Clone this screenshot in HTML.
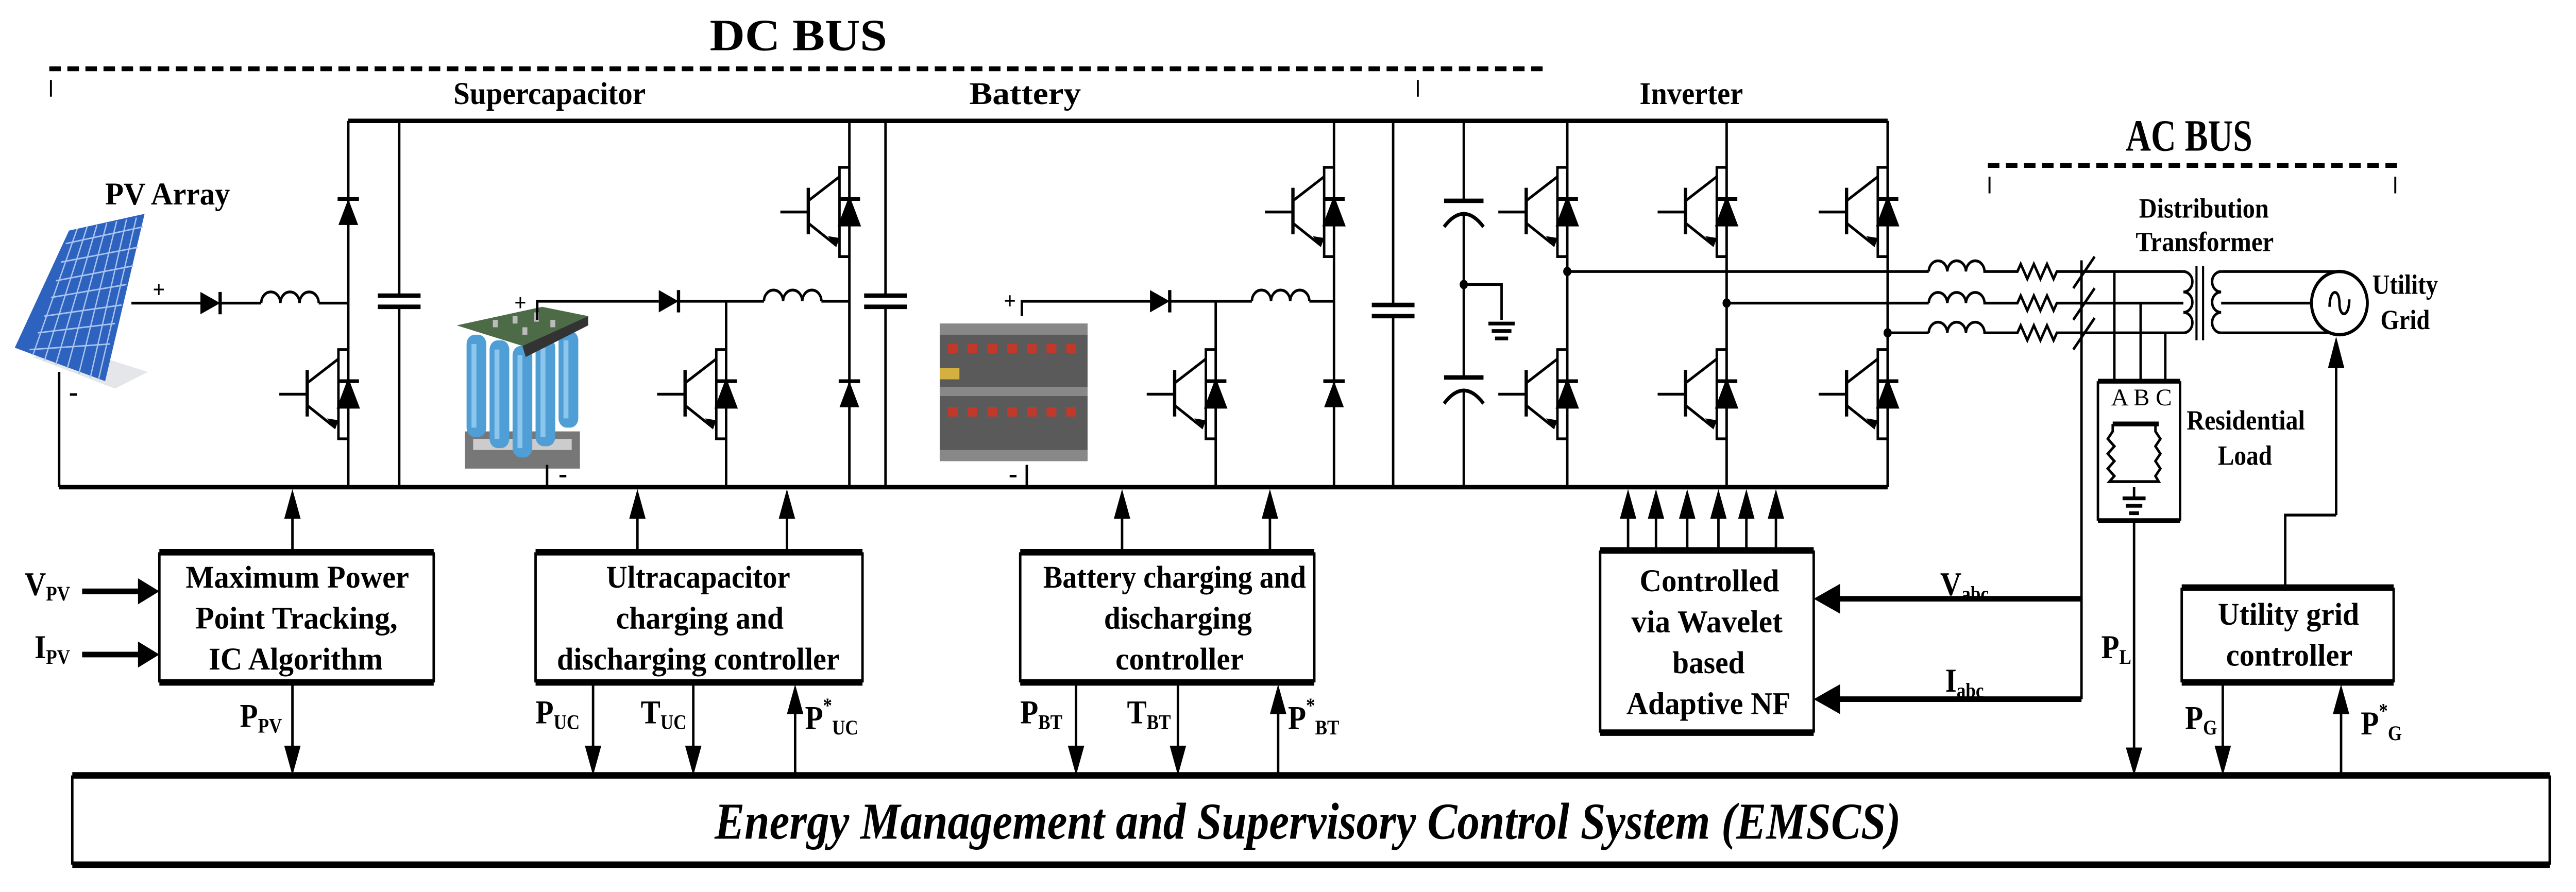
<!DOCTYPE html>
<html><head><meta charset="utf-8"><style>
html,body{margin:0;padding:0;background:#fff;overflow:hidden;width:100%;height:100%}
svg{display:block;width:100vw;height:100vh}
.t{font-family:"Liberation Serif",serif;font-weight:bold;fill:#000}
.s{font-size:11px}
</style></head><body>
<svg viewBox="0 0 1568 479.7" preserveAspectRatio="none" xmlns="http://www.w3.org/2000/svg">
<defs>
<g id="dio"><polygon points="-6,7 6,7 0,-7" fill="#000"/><path d="M-6.5,-7H6.5" stroke="#000" stroke-width="2"/></g>
<g id="igbt" fill="none" stroke="#000" stroke-width="1.5">
<path d="M0,-24H-6V24H0"/>
<path d="M-25,-13V12" stroke-width="2"/>
<path d="M-42,0H-25"/>
<path d="M-25,-6L-6,-19M-25,6L-8,18"/>
<polygon points="-8,19 -13,13 -6,14" fill="#000" stroke="none"/>
<use href="#dio"/>
</g>
</defs>
<rect width="1568" height="480" fill="#fff"/>

<text class="t" x="432" y="27" font-size="24" textLength="108" lengthAdjust="spacingAndGlyphs">DC BUS</text>
<path d="M30,37H943" stroke="#000" stroke-width="2.6" stroke-dasharray="7,4"/>
<path d="M31,43V52M863,43V52" stroke="#000" stroke-width="1.2"/>
<text class="t" x="1294" y="81" font-size="24" textLength="77" lengthAdjust="spacingAndGlyphs">AC BUS</text>
<path d="M1210,89H1459" stroke="#000" stroke-width="2.6" stroke-dasharray="7,4"/>
<path d="M1211,95V104M1458,95V104" stroke="#000" stroke-width="1.2"/>
<text class="t" x="276" y="56" font-size="17" textLength="117" lengthAdjust="spacingAndGlyphs">Supercapacitor</text>
<text class="t" x="590" y="56" font-size="17" textLength="68" lengthAdjust="spacingAndGlyphs">Battery</text>
<text class="t" x="998" y="56" font-size="17" textLength="63" lengthAdjust="spacingAndGlyphs">Inverter</text>
<text class="t" x="64" y="110" font-size="17" textLength="76" lengthAdjust="spacingAndGlyphs">PV Array</text>

<g stroke="#000" fill="none">
<path d="M212,65H1149" stroke-width="2.4"/>
<path d="M36,262H1149" stroke-width="2.4"/>
</g>

<polygon points="20,192 70,209 90,200 40,186" fill="#e4e6ea"/>
<polygon points="42,124 88,115 64,205 9,187" fill="#2d62bf"/>
<g stroke="#a9c4ee" stroke-width="0.8">
<path d="M47,123L20,191M53,122L27,194M59,121L34,196M65,120L41,198M71,119L48,201M77,118L55,203M83,117L60,204"/>
<path d="M40,131L87,122M37,141L84,133M34,151L81,143M31,160L77,153M27,170L74,164M23,179L70,174M18,188L67,185"/>
</g>
<g stroke="#000" fill="none" stroke-width="1.5">
<path d="M80,163H122M134,163H159M194,163H212"/>
<path d="M159,163a5.83,6 0 0 1 11.67,0a5.83,6 0 0 1 11.67,0a5.83,6 0 0 1 11.67,0"/>
<path d="M36,200V262"/>
<path d="M212,65V262"/>
<path d="M243,65V159M243,165V262"/>
<path d="M230,159H256M230,165H256" stroke-width="2.4"/>
</g>
<polygon points="122,157 122,169 134,163" fill="#000"/><path d="M134,157V169" stroke="#000" stroke-width="2"/>
<text class="t" x="93" y="160" font-size="13">+</text>
<text class="t" x="42" y="216" font-size="16">-</text>
<use href="#dio" x="212" y="114"/>
<use href="#igbt" x="212" y="212"/>

<g>
<rect x="283" y="232" width="70" height="20" fill="#777"/>
<rect x="288" y="236" width="60" height="6" fill="#ccc"/>
<g fill="#4f9fd6">
<rect x="284" y="180" width="12" height="55" rx="5"/><rect x="298" y="183" width="12" height="58" rx="5"/>
<rect x="312" y="186" width="12" height="60" rx="5"/><rect x="326" y="182" width="12" height="58" rx="5"/>
<rect x="340" y="178" width="12" height="52" rx="5"/>
</g>
<g fill="#8cc6ec"><rect x="287" y="185" width="3" height="45"/><rect x="301" y="188" width="3" height="48"/><rect x="315" y="191" width="3" height="50"/><rect x="329" y="187" width="3" height="48"/><rect x="343" y="183" width="3" height="42"/></g>
<polygon points="278,175 330,165 358,170 318,186" fill="#4c6b46"/>
<polygon points="318,186 358,170 358,175 320,192" fill="#333"/>
<g fill="#bbb"><rect x="300" y="172" width="3" height="4"/><rect x="312" y="170" width="3" height="4"/><rect x="325" y="168" width="3" height="5"/><rect x="335" y="172" width="3" height="4"/><rect x="318" y="176" width="3" height="4"/></g>
</g>
<g stroke="#000" fill="none" stroke-width="1.5">
<path d="M327,172V162H401M413,162H465M500,162H517"/>
<path d="M465,162a5.83,6 0 0 1 11.67,0a5.83,6 0 0 1 11.67,0a5.83,6 0 0 1 11.67,0"/>
<path d="M442,162V262"/>
<path d="M333,250V262"/>
<path d="M517,65V262"/>
<path d="M539,65V159M539,165V262"/>
<path d="M526,159H552M526,165H552" stroke-width="2.4"/>
</g>
<polygon points="401,156 401,168 413,162" fill="#000"/><path d="M413,156V168" stroke="#000" stroke-width="2"/>
<text class="t" x="313" y="167" font-size="13">+</text>
<text class="t" x="340" y="260" font-size="16">-</text>
<use href="#igbt" x="442" y="212"/>
<use href="#igbt" x="517" y="114"/>
<use href="#dio" x="517" y="212"/>

<g>
<rect x="572" y="174" width="90" height="74" fill="#5a5a5a"/>
<rect x="572" y="174" width="90" height="6" fill="#888"/>
<rect x="572" y="208" width="90" height="5" fill="#888"/>
<rect x="572" y="242" width="90" height="6" fill="#888"/>
<g fill="#c0392b">
<rect x="577" y="185" width="6" height="5"/><rect x="589" y="185" width="6" height="5"/><rect x="601" y="185" width="6" height="5"/><rect x="613" y="185" width="6" height="5"/><rect x="625" y="185" width="6" height="5"/><rect x="637" y="185" width="6" height="5"/><rect x="649" y="185" width="6" height="5"/>
<rect x="577" y="219" width="6" height="5"/><rect x="589" y="219" width="6" height="5"/><rect x="601" y="219" width="6" height="5"/><rect x="613" y="219" width="6" height="5"/><rect x="625" y="219" width="6" height="5"/><rect x="637" y="219" width="6" height="5"/><rect x="649" y="219" width="6" height="5"/>
</g>
<rect x="572" y="198" width="12" height="6" fill="#d4b040"/>
</g>
<g stroke="#000" fill="none" stroke-width="1.5">
<path d="M622,170V162H700M712,162H762M797,162H812"/>
<path d="M762,162a5.83,6 0 0 1 11.67,0a5.83,6 0 0 1 11.67,0a5.83,6 0 0 1 11.67,0"/>
<path d="M740,162V262"/>
<path d="M625,250V262"/>
<path d="M812,65V262"/>
<path d="M848,65V164M848,170V262"/>
<path d="M835,164H861M835,170H861" stroke-width="2.4"/>
</g>
<polygon points="700,156 700,168 712,162" fill="#000"/><path d="M712,156V168" stroke="#000" stroke-width="2"/>
<text class="t" x="611" y="166" font-size="13">+</text>
<text class="t" x="614" y="260" font-size="16">-</text>
<use href="#igbt" x="740" y="212"/>
<use href="#igbt" x="812" y="114"/>
<use href="#dio" x="812" y="212"/>

<g stroke="#000" fill="none" stroke-width="1.5">
<path d="M891,65V108M891,114V203M891,209V262"/>
<path d="M879,108H903M879,203H903" stroke-width="2.4"/>
<path d="M879,122Q891,108 903,122M879,217Q891,203 903,217" stroke-width="2"/>
<path d="M891,153H914V172"/>
<path d="M906,174H922M908,178H920M910,182H918" stroke-width="2"/>
<path d="M954,65V262M1051,65V262M1149,65V262"/>
<path d="M954,146H1174M1051,163H1174M1149,179H1174"/>
</g>
<circle cx="891" cy="153" r="2.5"/><circle cx="954" cy="146" r="2.5"/><circle cx="1051" cy="163" r="2.5"/><circle cx="1149" cy="179" r="2.5"/>
<use href="#igbt" x="954" y="114"/><use href="#igbt" x="954" y="212"/>
<use href="#igbt" x="1051" y="114"/><use href="#igbt" x="1051" y="212"/>
<use href="#igbt" x="1149" y="114"/><use href="#igbt" x="1149" y="212"/>

<g stroke="#000" fill="none" stroke-width="1.5">
<path d="M1174,146a5.67,6 0 0 1 11.33,0a5.67,6 0 0 1 11.33,0a5.67,6 0 0 1 11.33,0H1228l2,-4l4,8l4,-8l4,8l4,-8l4,8l2,-4H1329"/>
<path d="M1174,163a5.67,6 0 0 1 11.33,0a5.67,6 0 0 1 11.33,0a5.67,6 0 0 1 11.33,0H1228l2,-4l4,8l4,-8l4,8l4,-8l4,8l2,-4H1329"/>
<path d="M1174,179a5.67,6 0 0 1 11.33,0a5.67,6 0 0 1 11.33,0a5.67,6 0 0 1 11.33,0H1228l2,-4l4,8l4,-8l4,8l4,-8l4,8l2,-4H1329"/>
<path d="M1262,155L1275,138M1262,172L1275,155M1262,188L1275,171"/>
<path d="M1329,146a5.5,5.5 0 0 1 0,11a5.5,5.5 0 0 1 0,11a5.5,5.5 0 0 1 0,11"/>
<path d="M1337,143V183M1341,143V183" stroke-width="1.3"/>
<path d="M1352,146a5.5,5.5 0 0 0 0,11a5.5,5.5 0 0 0 0,11a5.5,5.5 0 0 0 0,11"/>
<path d="M1352,146H1424M1352,179H1424M1352,163H1407"/>
<circle cx="1424" cy="163" r="17" fill="#fff" stroke-width="1.8"/>
<path d="M1418,165c0,-10 6,-10 6,-2s6,8 6,-2"/>
<path d="M1267,140V376"/>
<path d="M1287,146V205M1303,163V205M1318,179V205"/>
<path d="M1277,205V280M1327,205V280"/>
<path d="M1277,205H1327M1277,280H1327" stroke-width="2.6"/>
<path d="M1286,228H1314" stroke-width="2.6"/>
<path d="M1286,228V232l-3,4l4,4l-4,4l4,4l-4,4l4,4l-3,3H1314l-2,-3l3,-4l-3,-4l3,-4l-3,-4l3,-4l-3,-4V228"/>
<path d="M1299,262V268"/>
<path d="M1292,268H1306M1294,272H1304M1296,276H1302" stroke-width="2"/>
<path d="M1299,280V402"/>
<path d="M1422,277V196M1422,277H1391V316"/>
</g>
<polygon points="1417,198 1427,198 1422,181" fill="#000"/>
<polygon points="1294,402 1304,402 1299,417" fill="#000"/>
<text class="t" x="1302" y="117" font-size="15" textLength="79" lengthAdjust="spacingAndGlyphs">Distribution</text>
<text class="t" x="1300" y="135" font-size="15" textLength="84" lengthAdjust="spacingAndGlyphs">Transformer</text>
<text class="t" x="1444" y="158" font-size="15" textLength="40" lengthAdjust="spacingAndGlyphs">Utility</text>
<text class="t" x="1449" y="177" font-size="15" textLength="30" lengthAdjust="spacingAndGlyphs">Grid</text>
<text class="t" x="1331" y="231" font-size="15" textLength="72" lengthAdjust="spacingAndGlyphs">Residential</text>
<text class="t" x="1350" y="250" font-size="15" textLength="33" lengthAdjust="spacingAndGlyphs">Load</text>
<text x="1285" y="218" font-family="Liberation Serif,serif" font-size="13" textLength="37" lengthAdjust="spacingAndGlyphs">A B C</text>

<g stroke="#000" fill="none" stroke-width="1.5">
<path d="M97,297V367M264,297V367"/>
<path d="M97,297H264M97,367H264" stroke-width="3.5"/>
<path d="M326,297V367M525,297V367"/>
<path d="M326,297H525M326,367H525" stroke-width="3.5"/>
<path d="M621,297V367M800,297V367"/>
<path d="M621,297H800M621,367H800" stroke-width="3.5"/>
<path d="M974,296V394M1104,296V394"/>
<path d="M974,296H1104M974,394H1104" stroke-width="3.5"/>
<path d="M1328,316V367M1457,316V367"/>
<path d="M1328,316H1457M1328,367H1457" stroke-width="3.5"/>
<path d="M44,417V465M1552,417V465"/>
<path d="M44,417H1552M44,465H1552" stroke-width="3.5"/>
<path d="M178,297V278M388,297V278M479,297V278M683,297V278M773,297V278"/>
<path d="M991,296V278M1008,296V278M1027,296V278M1046,296V278M1063,296V278M1081,296V278"/>
<path d="M178,367V402M361,367V402M422,367V402M655,367V402M717,367V402M1353,367V402"/>
<path d="M484,417V383M778,417V383M1425,417V383"/>
<path d="M1267,322H1120M1267,376H1120" stroke-width="3"/>
<path d="M50,318H85M50,352H85" stroke-width="3"/>
</g>
<g fill="#000">
<polygon points="173,279 183,279 178,263"/><polygon points="383,279 393,279 388,263"/><polygon points="474,279 484,279 479,263"/>
<polygon points="678,279 688,279 683,263"/><polygon points="768,279 778,279 773,263"/>
<polygon points="986,279 996,279 991,263"/><polygon points="1003,279 1013,279 1008,263"/><polygon points="1022,279 1032,279 1027,263"/>
<polygon points="1041,279 1051,279 1046,263"/><polygon points="1058,279 1068,279 1063,263"/><polygon points="1076,279 1086,279 1081,263"/>
<polygon points="173,401 183,401 178,417"/><polygon points="356,401 366,401 361,417"/><polygon points="417,401 427,401 422,417"/>
<polygon points="650,401 660,401 655,417"/><polygon points="712,401 722,401 717,417"/><polygon points="1348,401 1358,401 1353,417"/>
<polygon points="479,384 489,384 484,368"/><polygon points="773,384 783,384 778,368"/><polygon points="1420,384 1430,384 1425,368"/>
<polygon points="1120,314 1120,330 1104,322"/><polygon points="1120,368 1120,384 1104,376"/>
<polygon points="84,311 84,325 97,318"/><polygon points="84,345 84,359 97,352"/>
</g>

<text class="t" x="113" y="316" font-size="17" textLength="136" lengthAdjust="spacingAndGlyphs">Maximum Power</text>
<text class="t" x="119" y="338" font-size="17" textLength="123" lengthAdjust="spacingAndGlyphs">Point Tracking,</text>
<text class="t" x="127" y="360" font-size="17" textLength="106" lengthAdjust="spacingAndGlyphs">IC Algorithm</text>
<text class="t" x="369" y="316" font-size="17" textLength="112" lengthAdjust="spacingAndGlyphs">Ultracapacitor</text>
<text class="t" x="375" y="338" font-size="17" textLength="102" lengthAdjust="spacingAndGlyphs">charging and</text>
<text class="t" x="339" y="360" font-size="17" textLength="172" lengthAdjust="spacingAndGlyphs">discharging controller</text>
<text class="t" x="635" y="316" font-size="17" textLength="160" lengthAdjust="spacingAndGlyphs">Battery charging and</text>
<text class="t" x="672" y="338" font-size="17" textLength="90" lengthAdjust="spacingAndGlyphs">discharging</text>
<text class="t" x="679" y="360" font-size="17" textLength="78" lengthAdjust="spacingAndGlyphs">controller</text>
<text class="t" x="998" y="318" font-size="17" textLength="85" lengthAdjust="spacingAndGlyphs">Controlled</text>
<text class="t" x="993" y="340" font-size="17" textLength="92" lengthAdjust="spacingAndGlyphs">via Wavelet</text>
<text class="t" x="1018" y="362" font-size="17" textLength="44" lengthAdjust="spacingAndGlyphs">based</text>
<text class="t" x="990" y="384" font-size="17" textLength="100" lengthAdjust="spacingAndGlyphs">Adaptive NF</text>
<text class="t" x="1350" y="336" font-size="17" textLength="86" lengthAdjust="spacingAndGlyphs">Utility grid</text>
<text class="t" x="1355" y="358" font-size="17" textLength="77" lengthAdjust="spacingAndGlyphs">controller</text>
<text class="t" x="435" y="451" font-size="28" font-style="italic" textLength="722" lengthAdjust="spacingAndGlyphs">Energy Management and Supervisory Control System (EMSCS)</text>

<text class="t" x="15" y="320" font-size="18">V<tspan class="s" dy="3">PV</tspan></text>
<text class="t" x="21" y="354" font-size="18">I<tspan class="s" dy="3">PV</tspan></text>
<text class="t" x="146" y="391" font-size="18">P<tspan class="s" dy="3">PV</tspan></text>
<text class="t" x="326" y="389" font-size="18">P<tspan class="s" dy="3">UC</tspan></text>
<text class="t" x="390" y="389" font-size="18">T<tspan class="s" dy="3">UC</tspan></text>
<text class="t" x="490" y="392" font-size="18">P<tspan class="s" dy="-9">*</tspan><tspan class="s" dy="12">UC</tspan></text>
<text class="t" x="621" y="389" font-size="18">P<tspan class="s" dy="3">BT</tspan></text>
<text class="t" x="686" y="389" font-size="18">T<tspan class="s" dy="3">BT</tspan></text>
<text class="t" x="784" y="392" font-size="18">P<tspan class="s" dy="-9">*</tspan><tspan class="s" dy="12">BT</tspan></text>
<text class="t" x="1181" y="320" font-size="18">V<tspan class="s" dy="3">abc</tspan></text>
<text class="t" x="1184" y="372" font-size="18">I<tspan class="s" dy="3">abc</tspan></text>
<text class="t" x="1279" y="354" font-size="18">P<tspan class="s" dy="3">L</tspan></text>
<text class="t" x="1330" y="392" font-size="18">P<tspan class="s" dy="3">G</tspan></text>
<text class="t" x="1437" y="395" font-size="18">P<tspan class="s" dy="-9">*</tspan><tspan class="s" dy="12">G</tspan></text>
</svg>
</body></html>
